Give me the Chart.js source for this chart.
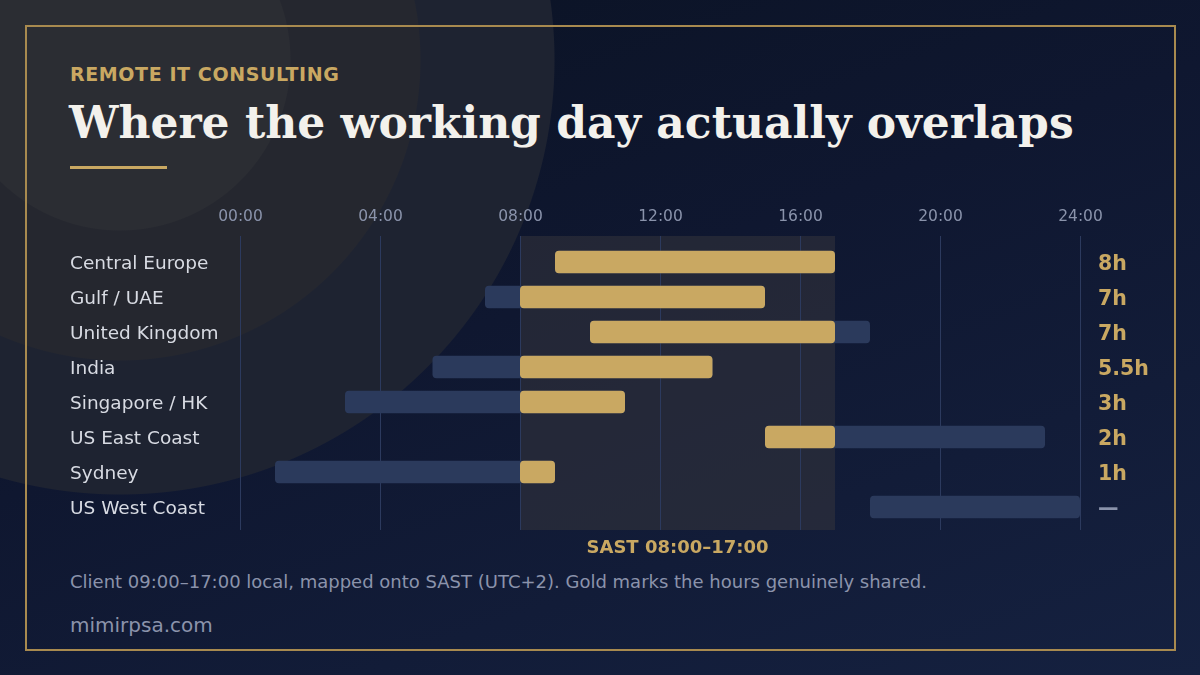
<!DOCTYPE html>
<html><head><meta charset="utf-8">
<script src="https://cdn.jsdelivr.net/npm/chart.js@4"></script>
<style>
html,body{margin:0;padding:0;width:1200px;height:675px;overflow:hidden;background:#0d1528;}
#bg{position:absolute;left:0;top:0;width:1200px;height:675px;
background:
radial-gradient(circle at 120px 60px,#2b2d33 0 170px,transparent 171px),
radial-gradient(circle at 120px 60px,#25272f 0 300px,transparent 301px),
radial-gradient(circle at 120px 60px,#1e2331 0 434px,transparent 435px),
linear-gradient(160deg,#0a1222 0%,#0f1730 45%,#152140 100%);}
#frame{position:absolute;left:25px;top:25px;width:1147px;height:622px;border:2px solid #a88a4f;}
.t{position:absolute;font-family:"DejaVu Sans",sans-serif;white-space:nowrap;}
canvas{position:absolute;left:0;top:0;}
</style></head><body>
<div id="bg"></div><div id="frame"></div>
<div class="t" style="left:70px;top:63px;color:#c9a862;font-size:19px;font-weight:bold;letter-spacing:0.6px">REMOTE IT CONSULTING</div>
<div class="t" style="left:69px;top:97px;color:#f3f1ec;font-size:44px;font-weight:bold;font-family:'DejaVu Serif',serif">Where the working day actually overlaps</div>
<div style="position:absolute;left:70px;top:166px;width:97px;height:3px;background:#c9a862"></div>
<div class="t" style="left:70px;top:571px;color:#8b93ab;font-size:18px">Client 09:00–17:00 local, mapped onto SAST (UTC+2). Gold marks the hours genuinely shared.</div>
<div class="t" style="left:70px;top:613px;color:#8b93ab;font-size:20px">mimirpsa.com</div>
<canvas id="c" width="1200" height="675"></canvas>
<script>
const regions=["Central Europe","Gulf / UAE","United Kingdom","India","Singapore / HK","US East Coast","Sydney","US West Coast"];
const clientStart=[9,7,10,5.5,3,15,1,18];
const clientEnd=[17,15,18,13.5,11,23,9,24];
const overlapStart=[9,8,10,8,8,15,8,null];
const overlapEnd=[17,15,17,13.5,11,17,9,null];
const overlapLabels=["8h","7h","7h","5.5h","3h","2h","1h","—"];
const tickLabels=["00:00","04:00","08:00","12:00","16:00","20:00","24:00"];
const sastStart=8,sastEnd=17;

const deco={id:'deco',
beforeDatasetsDraw(ch){const {ctx,chartArea:a,scales:{x,y}}=ch;ctx.save();
 const top=a.top-8.5,bot=a.bottom+5.5;
 ctx.fillStyle='rgba(52,52,60,0.55)';
 const x1=x.getPixelForValue(sastStart),x2=x.getPixelForValue(sastEnd);
 ctx.fillRect(x1,top,x2-x1,bot-top);
 ctx.strokeStyle='#2c3a5e';ctx.lineWidth=1;
 tickLabels.forEach((t,i)=>{const px=Math.round(x.getPixelForValue(i*4))+0.5;
  ctx.beginPath();ctx.moveTo(px,top);ctx.lineTo(px,bot);ctx.stroke();
  ctx.fillStyle='#8a93ab';ctx.font='15.5px "DejaVu Sans"';ctx.textAlign='center';ctx.textBaseline='middle';
  ctx.fillText(t,px,217);});
 ctx.restore();},
afterDatasetsDraw(ch){const {ctx,chartArea:a,scales:{x,y}}=ch;ctx.save();ctx.textBaseline='middle';
 regions.forEach((r,i)=>{const py=y.getPixelForValue(i);
  ctx.fillStyle='#d8dbe3';ctx.font='18.5px "DejaVu Sans"';ctx.textAlign='left';ctx.fillText(r,70,py+2);
  ctx.fillStyle=overlapLabels[i]==='—'?'#8a93ab':'#c9a862';ctx.font='bold 20.5px "DejaVu Sans"';ctx.fillText(overlapLabels[i],1098,py+3);});
 ctx.fillStyle='#c9a862';ctx.font='bold 18px "DejaVu Sans"';ctx.textAlign='center';
 ctx.fillText('SAST 08:00–17:00',(x.getPixelForValue(sastStart)+x.getPixelForValue(sastEnd))/2,548);
 ctx.restore();}};

new Chart(document.getElementById('c'),{type:'bar',
data:{labels:regions,datasets:[
 {data:clientStart.map((s,i)=>[s,clientEnd[i]]),backgroundColor:'#2b3a5c',borderRadius:4,borderSkipped:false,grouped:false,order:2},
 {data:overlapStart.map((s,i)=>s==null?null:[s,overlapEnd[i]]),backgroundColor:'#c9a862',borderRadius:4,borderSkipped:false,grouped:false,order:1}
]},
options:{indexAxis:'y',responsive:false,animation:false,
 layout:{padding:{left:240,right:120,top:244.5,bottom:150.5}},
 datasets:{bar:{categoryPercentage:1,barPercentage:0.64}},
 plugins:{legend:{display:false},tooltip:{enabled:false}},
 scales:{x:{display:false,min:0,max:24},y:{display:false}}},
plugins:[deco]});
</script></body></html>
